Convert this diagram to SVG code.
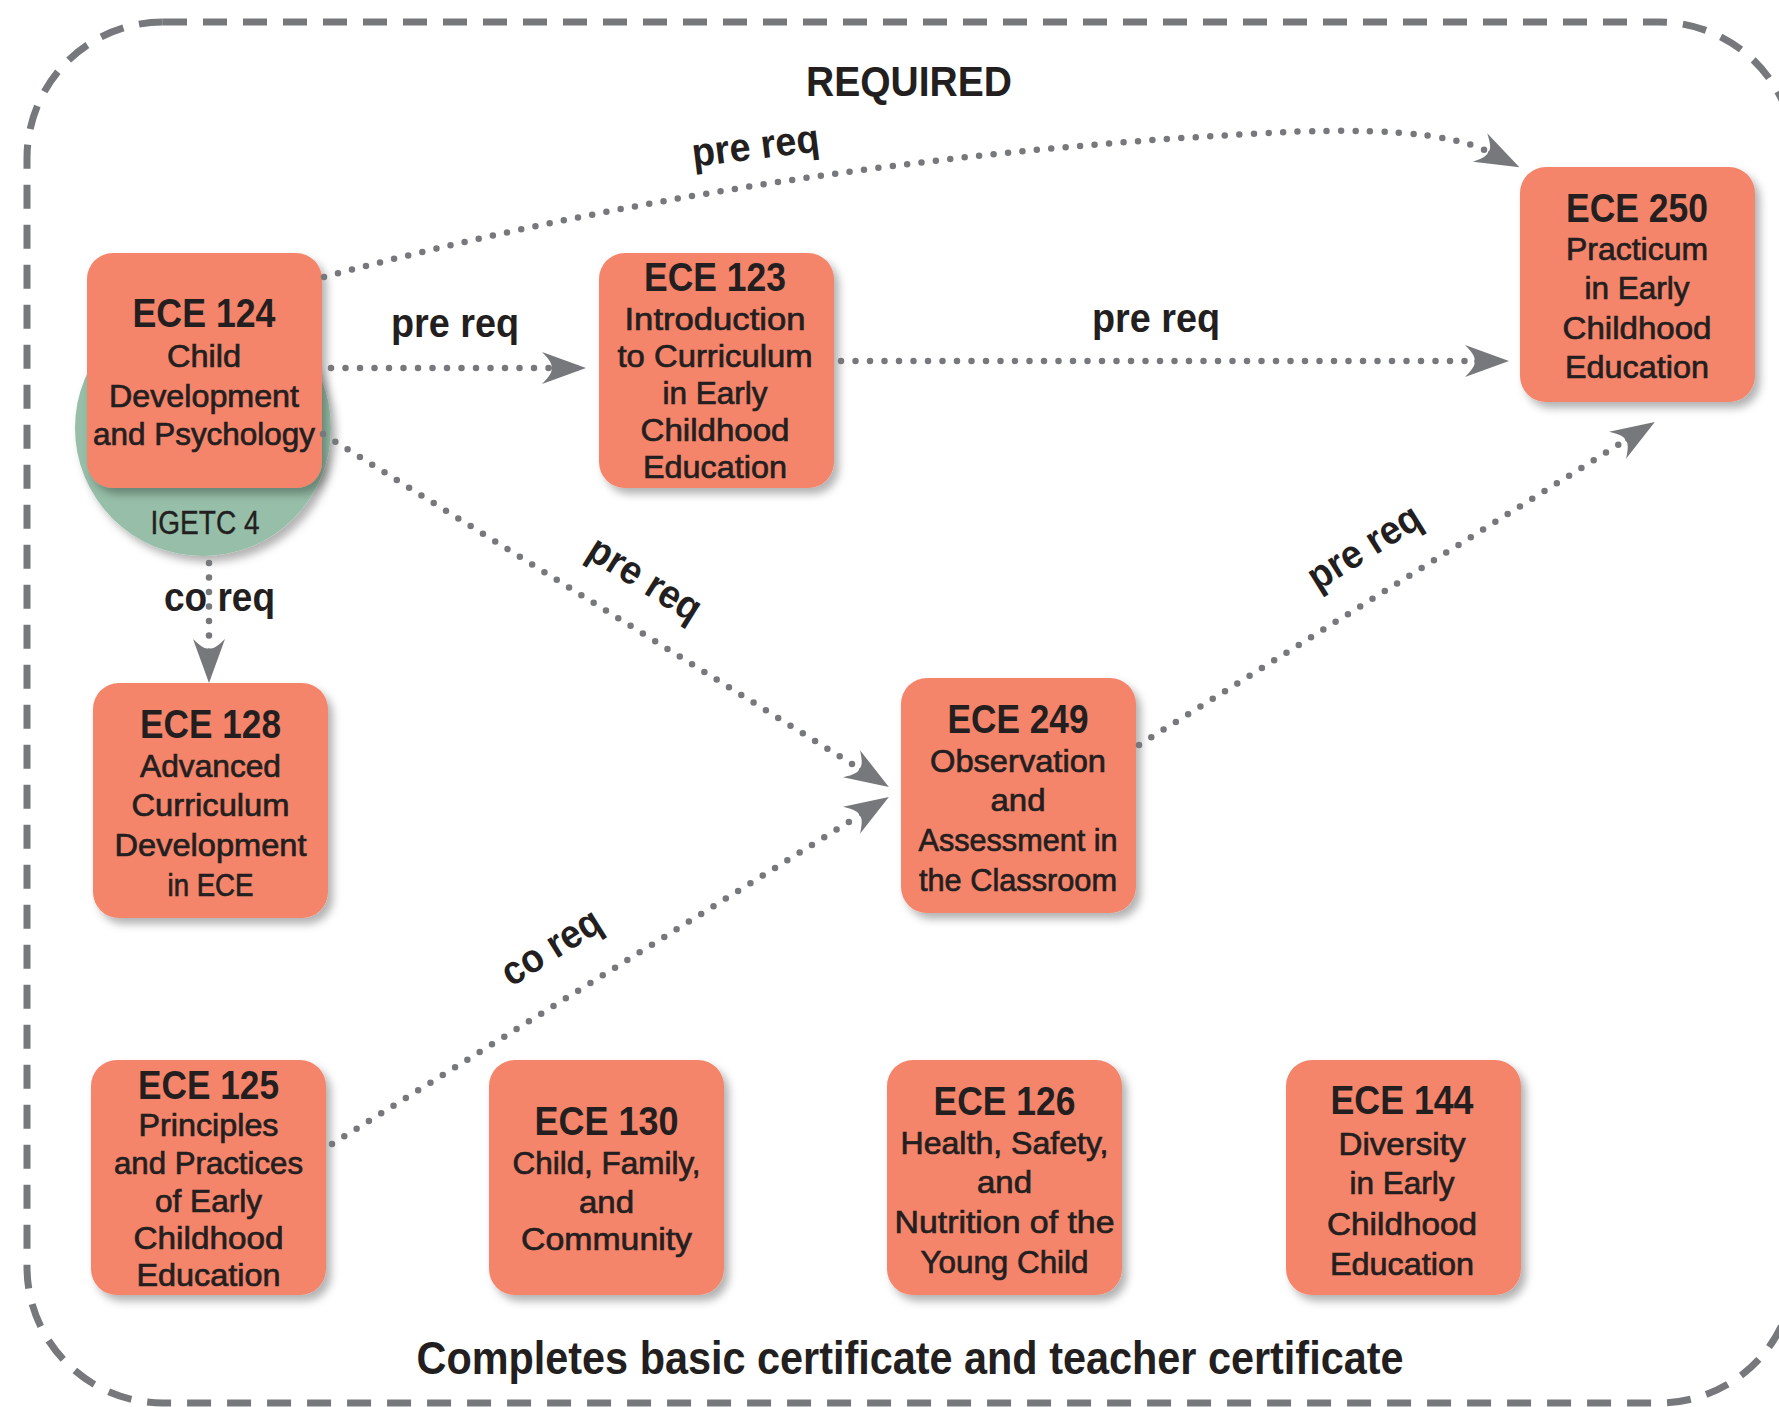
<svg xmlns="http://www.w3.org/2000/svg" width="1779" height="1407" viewBox="0 0 1779 1407">
<defs>
<filter id="sh" x="-15%" y="-15%" width="140%" height="140%">
<feDropShadow dx="5" dy="6" stdDeviation="4" flood-color="#000" flood-opacity="0.3"/>
</filter>
<marker id="arrow" viewBox="0 0 46 34" refX="10" refY="17" markerWidth="46" markerHeight="34" orient="auto" markerUnits="userSpaceOnUse">
<path d="M44,17 L0,1 Q12,13 9,17 Q12,21 0,33 Z" fill="#77787b"/>
</marker>
<style>
.frame{fill:none;stroke:#77787b;stroke-width:7;stroke-dasharray:24 16}
.box{fill:#f4846a;filter:url(#sh)}
.circ{fill:#96bea8;filter:url(#sh)}
text{font-family:"Liberation Sans",Arial,sans-serif;fill:#231f20;text-anchor:middle}
.t{font-weight:700;font-size:40px}
.b{font-weight:400;font-size:32px;stroke:#231f20;stroke-width:0.7}
.lbl{font-weight:700;font-size:40px}
.head{font-weight:700;font-size:43px}
.foot{font-weight:700;font-size:47px}
.ig{font-weight:400;font-size:34px;stroke:#231f20;stroke-width:0.4}
.conn{fill:none;stroke:#77787b;stroke-width:6.5;stroke-linecap:round;stroke-dasharray:0 14.5;marker-end:url(#arrow)}
</style>
</defs>
<rect class="frame" x="27" y="22" width="1768" height="1381" rx="136"/>
<text class="head" x="909" y="96" textLength="206" lengthAdjust="spacingAndGlyphs">REQUIRED</text>
<text class="foot" x="910" y="1374" textLength="987" lengthAdjust="spacingAndGlyphs">Completes basic certificate and teacher certificate</text>

<g id="igetc4">
<circle class="circ" cx="203" cy="428" r="128"/>
<text class="ig" x="205" y="534" textLength="109" lengthAdjust="spacingAndGlyphs">IGETC 4</text>
</g>

<g id="ece124">
<rect class="box" x="87" y="253" width="235" height="235" rx="26"/>
<text class="t" x="204" y="327" textLength="143" lengthAdjust="spacingAndGlyphs">ECE 124</text>
<text class="b" x="204" y="367" textLength="74" lengthAdjust="spacingAndGlyphs">Child</text>
<text class="b" x="204" y="407" textLength="190" lengthAdjust="spacingAndGlyphs">Development</text>
<text class="b" x="204" y="445" textLength="222" lengthAdjust="spacingAndGlyphs">and Psychology</text>
</g>

<g id="ece123">
<rect class="box" x="599" y="253" width="235" height="235" rx="26"/>
<text class="t" x="715" y="291" textLength="142" lengthAdjust="spacingAndGlyphs">ECE 123</text>
<text class="b" x="715" y="330" textLength="181" lengthAdjust="spacingAndGlyphs">Introduction</text>
<text class="b" x="715" y="367" textLength="195" lengthAdjust="spacingAndGlyphs">to Curriculum</text>
<text class="b" x="715" y="404" textLength="105" lengthAdjust="spacingAndGlyphs">in Early</text>
<text class="b" x="715" y="441" textLength="149" lengthAdjust="spacingAndGlyphs">Childhood</text>
<text class="b" x="715" y="478" textLength="144" lengthAdjust="spacingAndGlyphs">Education</text>
</g>

<g id="ece250">
<rect class="box" x="1520" y="167" width="235" height="235" rx="26"/>
<text class="t" x="1637" y="222" textLength="142" lengthAdjust="spacingAndGlyphs">ECE 250</text>
<text class="b" x="1637" y="260" textLength="142" lengthAdjust="spacingAndGlyphs">Practicum</text>
<text class="b" x="1637" y="299" textLength="105" lengthAdjust="spacingAndGlyphs">in Early</text>
<text class="b" x="1637" y="339" textLength="149" lengthAdjust="spacingAndGlyphs">Childhood</text>
<text class="b" x="1637" y="378" textLength="144" lengthAdjust="spacingAndGlyphs">Education</text>
</g>

<g id="ece128">
<rect class="box" x="93" y="683" width="235" height="235" rx="26"/>
<text class="t" x="210.5" y="738" textLength="141" lengthAdjust="spacingAndGlyphs">ECE 128</text>
<text class="b" x="210.5" y="777" textLength="141" lengthAdjust="spacingAndGlyphs">Advanced</text>
<text class="b" x="210.5" y="816" textLength="158" lengthAdjust="spacingAndGlyphs">Curriculum</text>
<text class="b" x="210.5" y="856" textLength="192" lengthAdjust="spacingAndGlyphs">Development</text>
<text class="b" x="210.5" y="896" textLength="86" lengthAdjust="spacingAndGlyphs">in ECE</text>
</g>

<g id="ece249">
<rect class="box" x="901" y="678" width="235" height="235" rx="26"/>
<text class="t" x="1018" y="733" textLength="141" lengthAdjust="spacingAndGlyphs">ECE 249</text>
<text class="b" x="1018" y="772" textLength="176" lengthAdjust="spacingAndGlyphs">Observation</text>
<text class="b" x="1018" y="811" textLength="55" lengthAdjust="spacingAndGlyphs">and</text>
<text class="b" x="1018" y="851" textLength="199" lengthAdjust="spacingAndGlyphs">Assessment in</text>
<text class="b" x="1018" y="891" textLength="198" lengthAdjust="spacingAndGlyphs">the Classroom</text>
</g>

<g id="ece125">
<rect class="box" x="91" y="1060" width="235" height="235" rx="26"/>
<text class="t" x="208.5" y="1099" textLength="141" lengthAdjust="spacingAndGlyphs">ECE 125</text>
<text class="b" x="208.5" y="1136" textLength="140" lengthAdjust="spacingAndGlyphs">Principles</text>
<text class="b" x="208.5" y="1174" textLength="189" lengthAdjust="spacingAndGlyphs">and Practices</text>
<text class="b" x="208.5" y="1212" textLength="107" lengthAdjust="spacingAndGlyphs">of Early</text>
<text class="b" x="208.5" y="1249" textLength="150" lengthAdjust="spacingAndGlyphs">Childhood</text>
<text class="b" x="208.5" y="1286" textLength="144" lengthAdjust="spacingAndGlyphs">Education</text>
</g>

<g id="ece130">
<rect class="box" x="489" y="1060" width="235" height="235" rx="26"/>
<text class="t" x="606.5" y="1135" textLength="144" lengthAdjust="spacingAndGlyphs">ECE 130</text>
<text class="b" x="606.5" y="1174" textLength="188" lengthAdjust="spacingAndGlyphs">Child, Family,</text>
<text class="b" x="606.5" y="1213" textLength="55" lengthAdjust="spacingAndGlyphs">and</text>
<text class="b" x="606.5" y="1250" textLength="171" lengthAdjust="spacingAndGlyphs">Community</text>
</g>

<g id="ece126">
<rect class="box" x="887" y="1060" width="235" height="235" rx="26"/>
<text class="t" x="1004.5" y="1115" textLength="142" lengthAdjust="spacingAndGlyphs">ECE 126</text>
<text class="b" x="1004.5" y="1154" textLength="208" lengthAdjust="spacingAndGlyphs">Health, Safety,</text>
<text class="b" x="1004.5" y="1193" textLength="55" lengthAdjust="spacingAndGlyphs">and</text>
<text class="b" x="1004.5" y="1233" textLength="220" lengthAdjust="spacingAndGlyphs">Nutrition of the</text>
<text class="b" x="1004.5" y="1273" textLength="168" lengthAdjust="spacingAndGlyphs">Young Child</text>
</g>

<g id="ece144">
<rect class="box" x="1286" y="1060" width="235" height="235" rx="26"/>
<text class="t" x="1402" y="1114" textLength="143" lengthAdjust="spacingAndGlyphs">ECE 144</text>
<text class="b" x="1402" y="1155" textLength="127" lengthAdjust="spacingAndGlyphs">Diversity</text>
<text class="b" x="1402" y="1194" textLength="105" lengthAdjust="spacingAndGlyphs">in Early</text>
<text class="b" x="1402" y="1235" textLength="150" lengthAdjust="spacingAndGlyphs">Childhood</text>
<text class="b" x="1402" y="1275" textLength="144" lengthAdjust="spacingAndGlyphs">Education</text>
</g>

<g id="connectors">
<path class="conn" d="M324,277 Q760,160 1250,134 Q1430,122.5 1489,152"/>
<path class="conn" d="M331,368 L552,368"/>
<path class="conn" d="M841,361 L1475,361"/>
<path class="conn" d="M323,434 L860,769"/>
<path class="conn" d="M332,1144 L860,815"/>
<path class="conn" d="M1139,745 L1626,440"/>
<path class="conn" d="M209,563 L209,649"/>
<text class="lbl" transform="translate(757,159) rotate(-7)" textLength="128" lengthAdjust="spacingAndGlyphs">pre req</text>
<text class="lbl" x="455" y="337" textLength="128" lengthAdjust="spacingAndGlyphs">pre req</text>
<text class="lbl" x="1156" y="332" textLength="128" lengthAdjust="spacingAndGlyphs">pre req</text>
<text class="lbl" transform="translate(638,590) rotate(32)" textLength="126" lengthAdjust="spacingAndGlyphs">pre req</text>
<text class="lbl" transform="translate(558,958) rotate(-32)" textLength="110" lengthAdjust="spacingAndGlyphs">co req</text>
<text class="lbl" transform="translate(1371,558) rotate(-32)" textLength="126" lengthAdjust="spacingAndGlyphs">pre req</text>
<text class="lbl" x="219.5" y="611" textLength="111" lengthAdjust="spacingAndGlyphs">co req</text>
</g>
</svg>
